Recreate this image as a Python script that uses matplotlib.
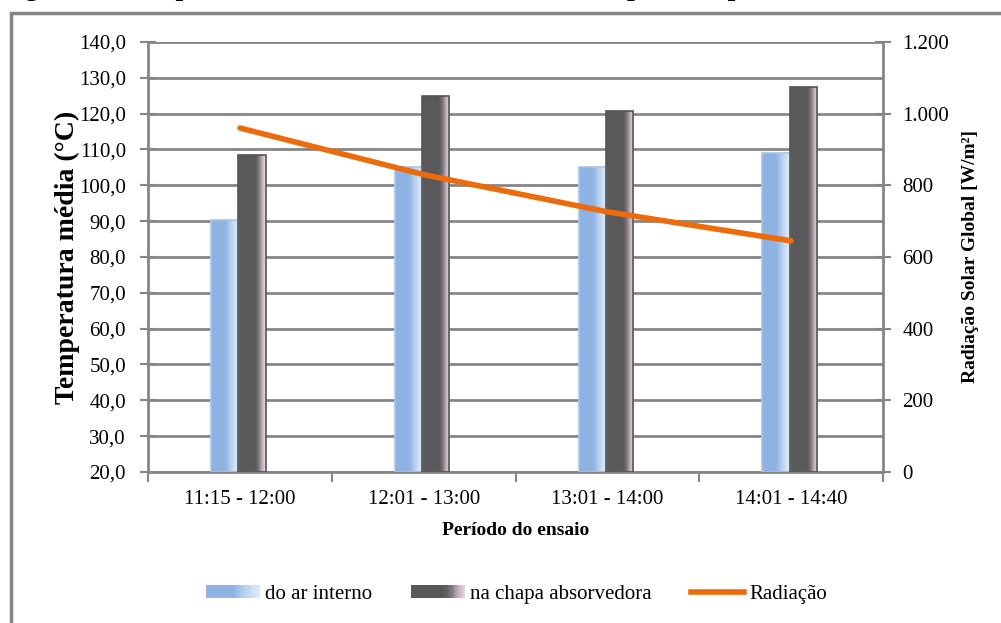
import matplotlib
matplotlib.use("Agg")
import matplotlib.pyplot as plt
import numpy as np
from matplotlib.patches import Rectangle
from matplotlib.lines import Line2D
from matplotlib.legend_handler import HandlerBase
from matplotlib.ticker import FuncFormatter

plt.rcParams["font.family"] = ["Liberation Serif", "DejaVu Serif"]

periodos = ["11:15 - 12:00", "12:01 - 13:00", "13:01 - 14:00", "14:01 - 14:40"]
ar_interno = [90.3, 105.2, 105.0, 108.9]
chapa = [108.5, 124.9, 120.8, 127.3]
radiacao = [960, 830, 726, 645]

grid_col = "#868686"

fig = plt.figure(figsize=(10.01, 6.23), dpi=100)

# moldura cinza do grafico (recortada)
fig.patches.append(Rectangle((0.011, -0.05), 1.2, 1.029, transform=fig.transFigure,
                             fill=False, edgecolor=grid_col, linewidth=2.5))
# titulo cortado no topo, so as pernas das letras aparecem
fig.text(0.0, 1.008, "Figura 6 - Temperatura média do ar interno e da chapa e temperatura",
         fontsize=20, fontweight="bold", va="baseline", ha="left")

ax = fig.add_axes([0.1479, 0.2424, 0.7342, 0.6902])
ax.set_ylim(20, 140)
ax.set_xlim(-0.5, 3.5)
ax.set_yticks(np.arange(20, 141, 10))
ax.yaxis.set_major_formatter(FuncFormatter(lambda v, p: f"{v:.1f}".replace(".", ",")))
ax.set_xticks(range(len(periodos)))
ax.set_xticklabels(periodos)
ax.set_xticks(np.arange(-0.5, 3.6, 1), minor=True)
ax.tick_params(axis="x", which="major", length=0, labelsize=15, pad=13)
ax.tick_params(axis="x", which="minor", length=7, width=1.5, color=grid_col)
ax.tick_params(axis="y", direction="inout", length=12, width=1.5, color=grid_col, labelsize=15, pad=10)
ax.grid(axis="y", color=grid_col, linewidth=2)
ax.set_axisbelow(True)
for s in ["top", "right"]:
    ax.spines[s].set_visible(False)
for s in ["left", "bottom"]:
    ax.spines[s].set_color(grid_col)
    ax.spines[s].set_linewidth(2)

blue_grad = np.array([[0.56, 0.70, 0.89]] * 6 + [[0.62, 0.75, 0.91], [0.70, 0.80, 0.93],
                     [0.76, 0.84, 0.95], [0.82, 0.88, 0.96], [0.86, 0.91, 0.97]])
dark_grad = np.array([[0.35, 0.35, 0.35]] * 7 + [[0.40, 0.39, 0.40], [0.55, 0.52, 0.55],
                     [0.75, 0.70, 0.74], [0.88, 0.82, 0.86]])

w = 0.148


def grad_bar(x, h, grad, edge):
    rect = Rectangle((x, 20), w, h - 20, facecolor="none", edgecolor=edge, linewidth=1.2, zorder=3)
    ax.add_patch(rect)
    im = ax.imshow(grad[np.newaxis, :, :], extent=(x, x + w, 20, h), aspect="auto",
                   interpolation="bilinear", zorder=2)
    im.set_clip_path(rect)


for i in range(len(periodos)):
    grad_bar(i - w - 0.008, ar_interno[i], blue_grad, "#a9c4e8")
    grad_bar(i - 0.008, chapa[i], dark_grad, "#555555")

ax2 = ax.twinx()
ax2.set_ylim(0, 1200)
ax2.set_yticks(np.arange(0, 1201, 200))
ax2.yaxis.set_major_formatter(FuncFormatter(lambda v, p: f"{int(v):,}".replace(",", ".")))
ax2.tick_params(axis="y", direction="inout", length=12, width=1.5, color=grid_col, labelsize=15, pad=8)
for s in ["top", "left", "bottom"]:
    ax2.spines[s].set_visible(False)
ax2.spines["right"].set_color(grid_col)
ax2.spines["right"].set_linewidth(2)
ax2.plot(range(len(periodos)), radiacao, color="#ED6B0B", linewidth=4, solid_capstyle="round")

ax.set_ylabel("Temperatura média (°C)", fontsize=20, fontweight="bold", labelpad=-1)
ax2.set_ylabel("Radiação Solar Global [W/m²]", fontsize=14, fontweight="bold", labelpad=9)
ax.set_xlabel("Período do ensaio", fontsize=14, fontweight="bold", labelpad=9)


class GradHandler(HandlerBase):
    def __init__(self, grad):
        super().__init__()
        self.grad = grad

    def create_artists(self, legend, orig_handle, xdescent, ydescent, width, height, fontsize, trans):
        n = 30
        cols = np.array([np.interp(np.linspace(0, 1, n), np.linspace(0, 1, len(self.grad)), self.grad[:, k])
                         for k in range(3)]).T
        arts = []
        for j in range(n):
            r = Rectangle((-xdescent + j * width / n, -ydescent), width / n + 0.3, height,
                          facecolor=cols[j], edgecolor="none", transform=trans)
            arts.append(r)
        return arts


h_blue = Rectangle((0, 0), 1, 1)
h_dark = Rectangle((0, 0), 1, 1)
h_line = Line2D([0], [0], color="#ED6B0B", linewidth=4)
fig.legend([h_blue, h_dark, h_line], ["do ar interno", "na chapa absorvedora", "Radiação"],
           handler_map={h_blue: GradHandler(blue_grad), h_dark: GradHandler(dark_grad)},
           loc="center", bbox_to_anchor=(0.516, 0.046), ncol=3, frameon=False,
           fontsize=15, handlelength=2.55, handleheight=0.55, handletextpad=0.25, columnspacing=1.9)

fig.savefig("out.png", dpi=100)
